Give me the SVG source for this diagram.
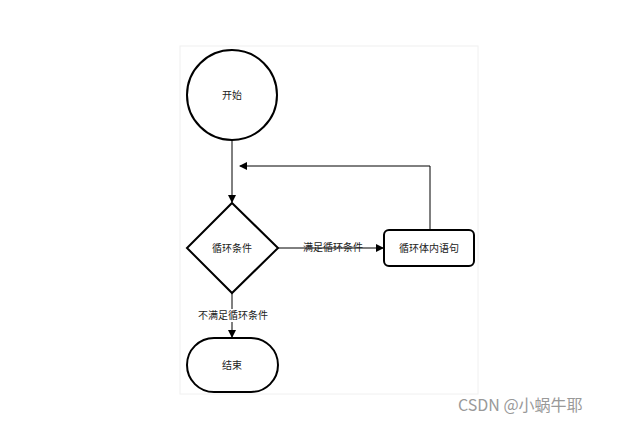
<svg xmlns="http://www.w3.org/2000/svg" width="623" height="423" viewBox="0 0 623 423">
<defs>
<style>
.s{fill:#fff;stroke:#000;stroke-width:2}
.t{font-family:"Noto Sans CJK SC",sans-serif;font-size:10px;fill:#222;text-anchor:middle}
.c{fill:none;stroke:#000;stroke-width:1}
</style>
<marker id="a" markerWidth="8" markerHeight="8" refX="7" refY="4" orient="auto" markerUnits="userSpaceOnUse"><path d="M0,0 L8,4 L0,8 Z" fill="#000"/></marker>
</defs>
<rect width="623" height="423" fill="#fff"/>
<rect x="180" y="46" width="298" height="348" fill="#fff" stroke="#f0f0f0"/>
<g id="connectors">
<path class="c" d="M232,140 V202" marker-end="url(#a)"/>
<path class="c" d="M278,248 H383" marker-end="url(#a)"/>
<path class="c" d="M430,230 V166 H240" marker-end="url(#a)"/>
<path class="c" d="M232,293 V337" marker-end="url(#a)"/>
<text class="t" x="333" y="251">满足循环条件</text>
<rect x="190" y="309" width="86" height="13" fill="#fff"/>
<text class="t" x="233" y="319">不满足循环条件</text>
</g>
<g id="start"><circle class="s" cx="232" cy="95" r="45"/><text class="t" x="232" y="99">开始</text></g>
<g id="cond"><path class="s" d="M232,203 L278,248 L232,293 L187,248 Z"/><text class="t" x="232" y="252">循环条件</text></g>
<g id="body"><rect class="s" x="384" y="230" width="90" height="36" rx="5"/><text class="t" x="429" y="252">循环体内语句</text></g>
<g id="end"><rect class="s" x="187" y="338" width="91" height="54" rx="27"/><text class="t" x="232" y="369">结束</text></g>
<text x="458" y="411" font-family="Noto Sans CJK SC,sans-serif" font-size="16" fill="#999">CSDN @小蜗牛耶</text>
</svg>
